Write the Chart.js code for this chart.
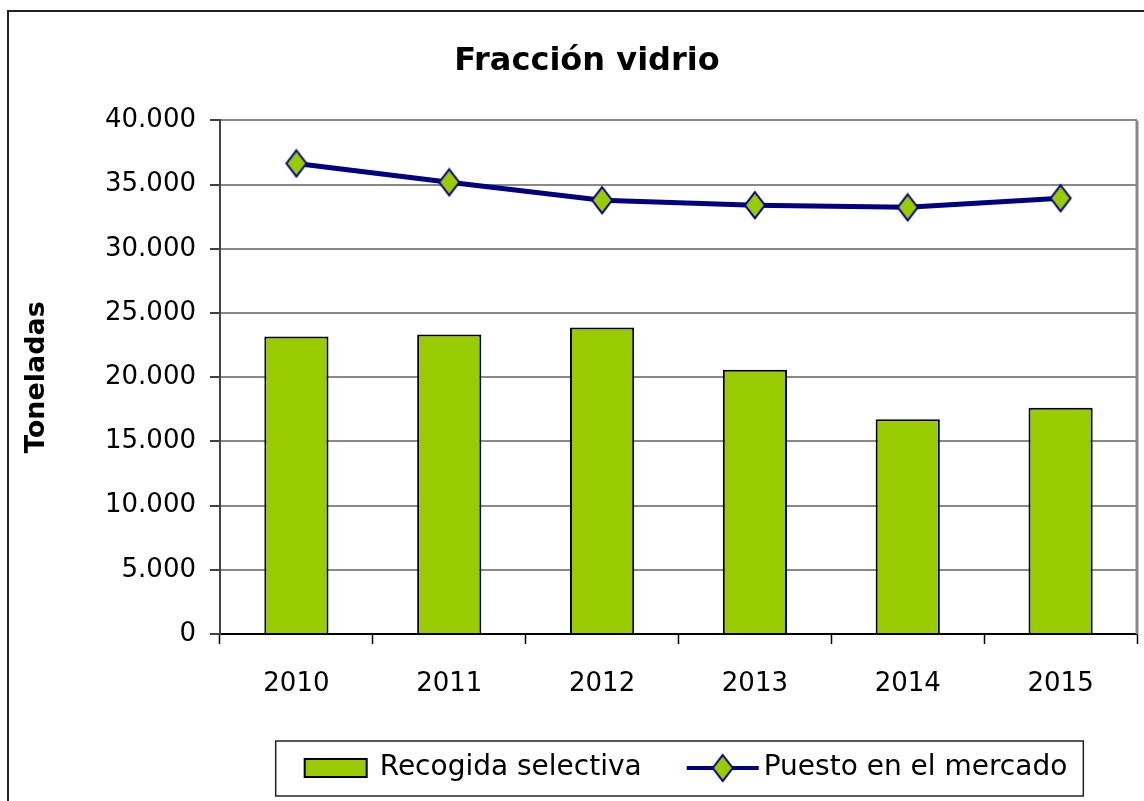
<html lang="es">
<head>
    <meta charset="UTF-8">
    <title>Fracción vidrio</title>
    <script src="https://cdn.jsdelivr.net/npm/chart.js@4"></script>
    <style>
        html, body { margin: 0; padding: 0; background: #fff; }
        #wrap { width: 1144px; height: 801px; }
    </style>
</head>
<body>
    <div id="wrap"><canvas id="graph" width="1144" height="801"></canvas></div>

    <script>
        // datos
        const years = ['2010', '2011', '2012', '2013', '2014', '2015'];
        const recogidaSelectiva = [23170, 23330, 23870, 20580, 16720, 17630];
        const puestoMercado = [36650, 35180, 33790, 33400, 33230, 33940];
        const yTicks = [0, 5000, 10000, 15000, 20000, 25000, 30000, 35000, 40000];

        const green = '#99cc00';
        const navy = '#000080';
        const txtFont = 'DejaVu Sans';

        function makeCanvas(w, h, draw) {
            const c = document.createElement('canvas');
            c.width = w; c.height = h;
            draw(c.getContext('2d'), w, h);
            return c;
        }
        function diamond(ctx, cx, cy, w, h) {
            ctx.beginPath();
            ctx.moveTo(cx, cy - h / 2);
            ctx.lineTo(cx + w / 2, cy);
            ctx.lineTo(cx, cy + h / 2);
            ctx.lineTo(cx - w / 2, cy);
            ctx.closePath();
            ctx.fillStyle = green;
            ctx.fill();
            ctx.lineWidth = 2;
            ctx.strokeStyle = navy;
            ctx.stroke();
        }
        const marker = makeCanvas(24, 30, (ctx, w, h) => diamond(ctx, w / 2, h / 2, 20, 26));
        // muestras de la leyenda (el lienzo va centrado en la caja de 76px)
        const barSwatch = makeCanvas(84, 20, (ctx) => {
            ctx.fillStyle = green;
            ctx.fillRect(19, 1, 62, 18);
            ctx.lineWidth = 2;
            ctx.strokeStyle = '#000';
            ctx.strokeRect(19, 1, 62, 18);
        });
        const lineSwatch = makeCanvas(100, 30, (ctx, w, h) => {
            ctx.strokeStyle = navy;
            ctx.lineWidth = 4;
            ctx.beginPath();
            ctx.moveTo(25, h / 2);
            ctx.lineTo(97, h / 2);
            ctx.stroke();
            diamond(ctx, 61, h / 2, 20, 26);
        });

        // marco exterior, borde del área y recuadro de la leyenda
        const frame = {
            id: 'frame',
            beforeDraw(chart) {
                const ctx = chart.ctx;
                ctx.save();
                ctx.fillStyle = '#fff';
                ctx.fillRect(0, 0, chart.width, chart.height);
                ctx.strokeStyle = '#222';
                ctx.lineWidth = 2;
                ctx.strokeRect(8, 11, chart.width + 20, chart.height + 20);
                ctx.restore();
            },
            afterDatasetsDraw(chart) {
                const a = chart.chartArea;
                const ctx = chart.ctx;
                ctx.save();
                ctx.strokeStyle = '#888';
                ctx.lineWidth = 3;
                ctx.beginPath();
                ctx.moveTo(a.right, a.top);
                ctx.lineTo(a.right, a.bottom);
                ctx.stroke();
                ctx.restore();
            },
            afterDraw(chart) {
                const boxes = chart.legend.legendHitBoxes;
                if (!boxes || !boxes.length) return;
                const first = boxes[0], last = boxes[boxes.length - 1];
                const cy = first.top + first.height / 2;
                const ctx = chart.ctx;
                ctx.save();
                ctx.strokeStyle = '#222';
                ctx.lineWidth = 1.5;
                const l = first.left - 14;
                const r = last.left + last.width + 16;
                ctx.strokeRect(l, cy - 27, r - l, 55);
                ctx.restore();
            }
        };

        Chart.defaults.color = '#000';
        Chart.defaults.font.family = txtFont;

        const ctx = document.getElementById('graph').getContext('2d');
        const chart = new Chart(ctx, {
            type: 'bar',
            data: {
                labels: years,
                datasets: [
                    {
                        type: 'bar',
                        label: 'Recogida selectiva',
                        data: recogidaSelectiva,
                        backgroundColor: green,
                        borderColor: '#000',
                        borderWidth: 2,
                        barPercentage: 0.42,
                        categoryPercentage: 1
                    },
                    {
                        type: 'line',
                        label: 'Puesto en el mercado',
                        data: puestoMercado,
                        borderColor: navy,
                        borderWidth: 5,
                        pointStyle: marker,
                        pointRadius: 12,
                        pointHoverRadius: 12,
                        tension: 0
                    }
                ]
            },
            plugins: [frame],
            options: {
                responsive: false,
                animation: false,
                layout: { autoPadding: false, padding: { left: 37, right: 7, top: 0, bottom: 9 } },
                plugins: {
                    tooltip: { enabled: false },
                    title: {
                        display: true,
                        text: 'Fracción vidrio',
                        font: { family: txtFont, size: 32, weight: 'bold' },
                        color: '#000',
                        padding: { top: 42, bottom: 40 }
                    },
                    legend: {
                        position: 'bottom',
                        fullSize: false,
                        labels: {
                            usePointStyle: true,
                            pointStyleWidth: 76,
                            padding: 32,
                            font: { family: txtFont, size: 28 },
                            generateLabels(c) {
                                const items = Chart.defaults.plugins.legend.labels.generateLabels(c);
                                items[0].pointStyle = barSwatch;
                                items[1].pointStyle = lineSwatch;
                                return items;
                            }
                        }
                    }
                },
                scales: {
                    x: {
                        grid: {
                            display: true,
                            offset: true,
                            drawOnChartArea: false,
                            tickLength: 10,
                            tickColor: '#000',
                            tickWidth: 1.5
                        },
                        border: { color: '#000', width: 2 },
                        ticks: { font: { size: 26 }, padding: 25, color: '#000' },
                        afterFit(s) {
                            s.height = 88;
                            s.paddingLeft = 0;
                            s.paddingRight = 0;
                        }
                    },
                    y: {
                        min: 0,
                        max: 40000,
                        afterBuildTicks(s) { s.ticks = yTicks.map(v => ({ value: v })); },
                        grid: {
                            color: '#888',
                            lineWidth: 2,
                            tickLength: 10,
                            tickColor: '#000',
                            tickWidth: 1.5
                        },
                        border: { color: '#444', width: 2 },
                        ticks: {
                            font: { size: 26 },
                            padding: 14,
                            color: '#000',
                            callback: v => String(v).replace(/\B(?=(\d{3})+(?!\d))/g, '.')
                        },
                        title: {
                            display: true,
                            text: 'Toneladas',
                            font: { family: txtFont, size: 27, weight: 'bold' },
                            color: '#000',
                            padding: { top: -16, bottom: 0 }
                        },
                        afterFit(s) { s.width = 183; }
                    }
                }
            }
        });
    </script>
</body>
</html>
